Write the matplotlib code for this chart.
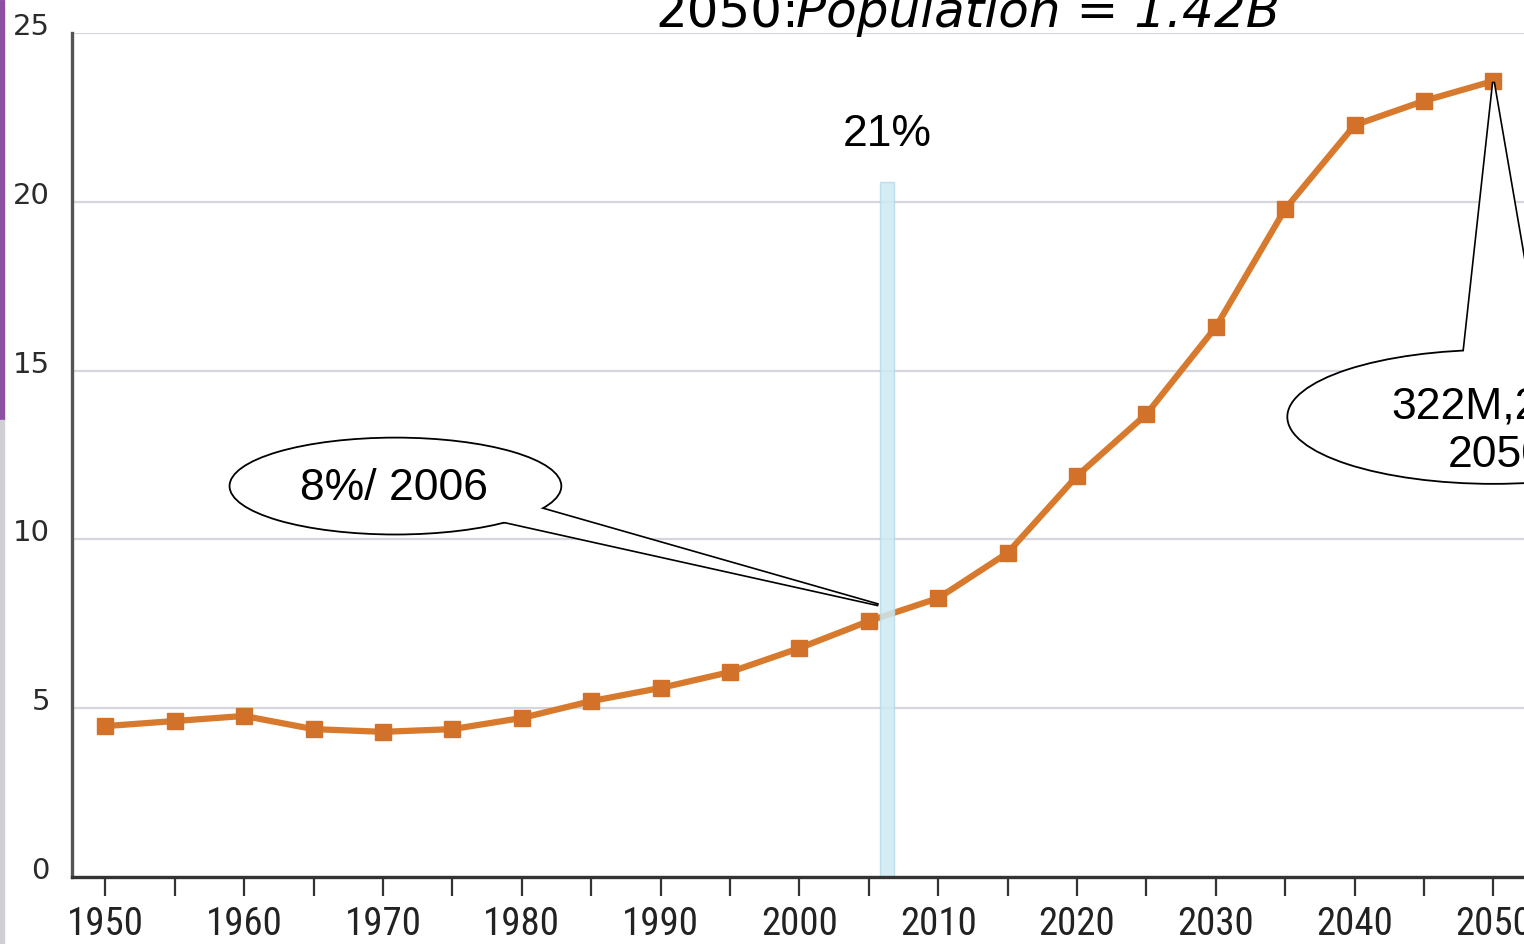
import numpy as np
import matplotlib
matplotlib.use('Agg')
import matplotlib.pyplot as plt
from matplotlib import font_manager
from matplotlib.patches import Ellipse, Polygon, Rectangle
from matplotlib.transforms import ScaledTranslation

# %% ------ data
years = [1950, 1955, 1960, 1965, 1970, 1975, 1980, 1985, 1990, 1995, 2000,
         2005, 2010, 2015, 2020, 2025, 2030, 2035, 2040, 2045, 2050]
share = [4.47, 4.62, 4.77, 4.38, 4.30, 4.38, 4.71, 5.21, 5.60, 6.07, 6.78,
         7.58, 8.26, 9.60, 11.88, 13.71, 16.29, 19.79, 22.27, 22.99, 23.58]
yticks = [0, 5, 10, 15, 20, 25]
xticks = list(range(1950, 2051, 10))
xminor = list(range(1955, 2051, 10))

highlight_year = 2006.3
highlight_top = 20.6
highlight_label = '21%'
callout_left = '8%/ 2006'
callout_right = '322M,24%\n2050'

line_col = '#d87a2e'


# pick a narrow font for the year labels if one is installed
def narrow_font():
    for fam in ['Liberation Sans Narrow', 'DejaVu Sans Condensed',
                'Roboto Condensed', 'Open Sans Condensed']:
        try:
            font_manager.findfont(fam, fallback_to_default=False)
            return fam, 28
        except ValueError:
            pass
    return 'DejaVu Sans', 22


xfont, xsize = narrow_font()

# %% ------ figure
fig = plt.figure(figsize=(15.24, 9.44), dpi=100)
ax = fig.add_axes([72/1524, 1-877/944, 1-72/1524, (877-33)/944])
ax.set_xlim(1947.6, 2052.2)
ax.set_ylim(0, 25)

# gridlines
ax.set_yticks(yticks)
ax.grid(axis='y', color='#d6d6de', lw=1.6, zorder=0)
ax.set_axisbelow(True)

# line with square markers
ax.plot(years, share, color=line_col, lw=4.5, marker='s', ms=11,
        mfc='#d2722a', mec='#d2722a', zorder=3, solid_capstyle='round')

# light blue highlight bar
ax.bar(highlight_year, highlight_top, width=1.0, color='#cdeaf3',
       edgecolor='#b4dbe8', lw=1, alpha=0.85, zorder=4)
ax.text(highlight_year, 22.0, highlight_label, ha='center', va='center',
        fontsize=32, family='Liberation Sans', zorder=6)

# left callout
wedge1 = [(1977.9, 10.6), (2005.7, 8.06), (1981.1, 10.95)]
ax.add_patch(Polygon(wedge1, closed=True, fc='white', ec='black', lw=2.4,
                     zorder=5))
ax.add_patch(Ellipse((1970.9, 11.58), 23.9, 2.87, fc='white', ec='black',
                     lw=1.3, zorder=5))
ax.add_patch(Polygon(wedge1, closed=True, fc='white', ec='none', zorder=5))
ax.text(1970.8, 11.5, callout_left, ha='center', va='center', fontsize=32,
        family='Liberation Sans', zorder=6)

# right callout
wedge2 = [(2047.8, 15.3), (2050.0, 23.55), (2053.7, 14.7)]
ax.add_patch(Polygon(wedge2, closed=True, fc='white', ec='black', lw=2.4,
                     zorder=5, clip_on=False))
ax.add_patch(Ellipse((2050.0, 13.63), 29.7, 3.97, fc='white', ec='black',
                     lw=1.3, zorder=5))
ax.add_patch(Polygon(wedge2, closed=True, fc='white', ec='none', zorder=5))
ax.text(2050.3, 13.2, callout_right, ha='center', va='center', fontsize=32,
        family='Liberation Sans', linespacing=1.25, zorder=6)

# spines
for s in ['top', 'right']:
    ax.spines[s].set_visible(False)
ax.spines['left'].set_color('#555555')
ax.spines['left'].set_linewidth(2.4)
ax.spines['bottom'].set_color('#333333')
ax.spines['bottom'].set_linewidth(2.4)
ax.spines['bottom'].set_zorder(7)

# y tick labels sit just above each gridline
ax.tick_params(axis='y', length=0, pad=16, labelsize=21, labelcolor='#2b2b2b')
for lab in ax.get_yticklabels():
    lab.set_family('DejaVu Sans')
    lab.set_transform(lab.get_transform() +
                      ScaledTranslation(0, 9/100, fig.dpi_scale_trans))

# x ticks
ax.set_xticks(xticks)
ax.set_xticks(xminor, minor=True)
ax.tick_params(axis='x', which='both', direction='out', length=14, width=1.6,
               color='#333333', pad=7, labelsize=xsize, labelcolor='#222222')
ax.tick_params(axis='x', which='minor', labelbottom=False)
for lab in ax.get_xticklabels():
    lab.set_family(xfont)

# title partly cut at the top: "2050:" upright, the rest italic, no gap
t1 = fig.text(655/1524, 1-27/944, '2050:', ha='left', va='baseline',
              fontsize=36, family='DejaVu Sans')
renderer = fig.canvas.get_renderer()
bb = t1.get_window_extent(renderer)
fig.text(bb.x1/1524 - 0.002, 1-27/944, 'Population = 1.42B', ha='left',
         va='baseline', fontsize=36, style='italic', family='DejaVu Sans')

# purple strip on the left edge
fig.add_artist(Rectangle((0, 1-420/944), 4/1524, 420/944, color='#8e4fa0',
                         transform=fig.transFigure))
fig.add_artist(Rectangle((0, 0), 4/1524, 1-420/944, color='#cfcfd6',
                         transform=fig.transFigure))

fig.savefig('out.png', dpi=100)
